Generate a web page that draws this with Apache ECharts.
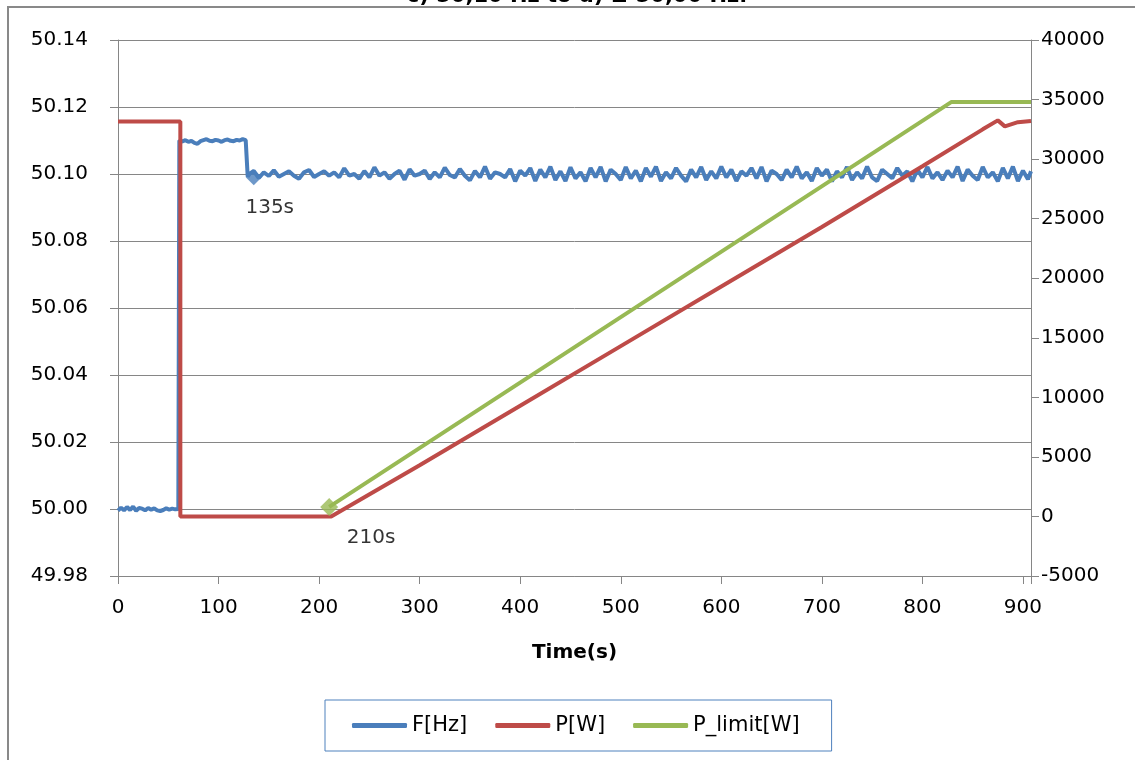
<!DOCTYPE html>
<html>
<head>
<meta charset="utf-8">
<script src="https://cdn.jsdelivr.net/npm/echarts@6/dist/echarts.min.js"></script>
<style>
  html, body { margin: 0; padding: 0; background: #ffffff; }
  #chart { width: 1135px; height: 760px; }
</style>
</head>
<body>
<div id="chart"></div>
<script>
// Grid frequency F[Hz] (left axis) over time, seconds
const freqTime = [
  0, 3, 6, 9, 12, 15, 18, 21, 24, 27, 30, 33, 36, 39, 42, 45, 48, 51, 54, 57, 60,
  61, 64, 67, 70, 73, 76, 79, 82, 85, 88, 91, 94, 97, 100, 103, 106, 109, 112, 115, 118, 121, 124, 127,
  128, 129, 131,
  135, 140, 145, 150, 155, 160, 165, 170, 175, 180, 185, 190, 195, 200, 205, 210,
  215, 220, 225, 230, 235, 240, 245, 250, 255, 260, 265, 270, 275, 280, 285, 290, 295, 300,
  305, 310, 315, 320, 325, 330, 335, 340, 345, 350, 355, 360, 365, 370, 375, 380, 385, 390, 395, 400,
  405, 410, 415, 420, 425, 430, 435, 440, 445, 450, 455, 460, 465, 470, 475, 480, 485, 490, 495, 500,
  505, 510, 515, 520, 525, 530, 535, 540, 545, 550, 555, 560, 565, 570, 575, 580, 585, 590, 595, 600,
  605, 610, 615, 620, 625, 630, 635, 640, 645, 650, 655, 660, 665, 670, 675, 680, 685, 690, 695, 700,
  705, 710, 715, 720, 725, 730, 735, 740, 745, 750, 755, 760, 765, 770, 775, 780, 785, 790, 795, 800,
  805, 810, 815, 820, 825, 830, 835, 840, 845, 850, 855, 860, 865, 870, 875, 880, 885, 890, 895, 900,
  905, 908
];
const freqValue = [
  49.9995, 50.0004, 49.9996, 50.0006, 49.9997, 50.0007, 49.9995, 50.0003, 50.0001, 49.9996, 50.0003,
  49.9998, 50.0002, 49.9996, 49.9994, 49.9997, 50.0002, 49.9998, 50.0001, 49.9999, 50.0000,
  50.1100, 50.1097, 50.1101, 50.1096, 50.1099, 50.1093, 50.1090, 50.1098, 50.1101, 50.1104, 50.1099,
  50.1098, 50.1102, 50.1100, 50.1096, 50.1101, 50.1103, 50.1099, 50.1098, 50.1102, 50.1100, 50.1104, 50.1101,
  50.1100, 50.0992, 50.1001,
  50.1009, 50.0988, 50.1005, 50.0994, 50.1011, 50.0992, 50.1000, 50.1008, 50.0995, 50.0986, 50.1005,
  50.1012, 50.0991, 50.1000, 50.1008, 50.0995,
  50.1005, 50.0990, 50.1017, 50.0995, 50.1000, 50.0986, 50.1009, 50.0990, 50.1020, 50.0995, 50.1005,
  50.0986, 50.1000, 50.1010, 50.0983, 50.1014, 50.0995, 50.1000,
  50.1010, 50.0985, 50.1005, 50.0990, 50.1019, 50.0997, 50.0990, 50.1015, 50.0995, 50.0981, 50.1009,
  50.0990, 50.1022, 50.0986, 50.1005, 50.1000, 50.0990, 50.1015, 50.0978, 50.1010,
  50.0995, 50.1018, 50.0979, 50.1013, 50.0990, 50.1022, 50.0982, 50.1008, 50.0979, 50.1020, 50.0987,
  50.1005, 50.0978, 50.1018, 50.0990, 50.1021, 50.0978, 50.1013, 50.1000, 50.0982,
  50.1021, 50.0987, 50.1010, 50.0978, 50.1018, 50.0992, 50.1022, 50.0979, 50.1005, 50.0987, 50.1018,
  50.0995, 50.0978, 50.1013, 50.0990, 50.1021, 50.0982, 50.1008, 50.0987, 50.1022,
  50.0990, 50.1013, 50.0979, 50.1008, 50.0995, 50.1018, 50.0987, 50.1021, 50.0978, 50.1010, 50.1000,
  50.0982, 50.1013, 50.0990, 50.1022, 50.0987, 50.1005, 50.0979, 50.1018, 50.0995,
  50.1013, 50.0978, 50.1008, 50.0990, 50.1021, 50.0982, 50.1005, 50.0987, 50.1022, 50.0990, 50.0979,
  50.1013, 50.1000, 50.0987, 50.1018, 50.0995, 50.1008, 50.0978, 50.1013, 50.0990,
  50.1021, 50.0987, 50.1005, 50.0982, 50.1010, 50.0990, 50.1022, 50.0979, 50.1013, 50.0995, 50.0982,
  50.1021, 50.0990, 50.1005, 50.0978, 50.1018, 50.0987, 50.1022, 50.0979, 50.1010,
  50.0984, 50.1008
];

// Active power P[W] (right axis)
const powerTime  = [0, 62, 62, 212, 300, 400, 500, 600, 700, 800, 860, 875, 882, 895, 908];
const powerValue = [33150, 33150, 0, 0, 4300, 9300, 14300, 19300, 24300, 29400, 32500, 33250, 32750, 33100, 33200];

// Power limit P_limit[W] (right axis)
const limitTime  = [210, 829, 908];
const limitValue = [800, 34800, 34800];

// Annotated events: frequency settles (blue), ramp starts (green)
const eventTime  = [135, 210];
const eventFreq  = 50.0990;
const eventPower = 800;

// Axis ticks
const timeTicks  = [0, 100, 200, 300, 400, 500, 600, 700, 800, 900];
const freqRange  = [49.98, 50.14, 0.02];
const powerRange = [-5000, 40000, 5000];
const timeRange  = [0, 908, 100];

const seriesNames = ['F[Hz]', 'P[W]', 'P_limit[W]'];
const BLUE = '#4A7EBB', RED = '#BE4B48', GREEN = '#98B954';
const AXIS_GRAY = '#868686';
const FONT = 'DejaVu Sans';

const pairs = (xs, ys) => xs.map((x, i) => [x, ys[i]]);

const chart = echarts.init(document.getElementById('chart'), null, { renderer: 'canvas' });

const labelStyle = { color: '#000', fontSize: 20, fontFamily: FONT };

chart.setOption({
  animation: false,
  backgroundColor: '#ffffff',
  grid: { left: 118, right: 104, top: 40, bottom: 184, containLabel: false },
  graphic: [
    {
      type: 'rect',
      shape: { x: 8, y: 7, width: 1200, height: 800 },
      style: { fill: 'none', stroke: '#898989', lineWidth: 2 },
      silent: true
    },
    {
      type: 'text',
      x: 577, y: 7,
      style: {
        text: 'c) 50,10 Hz to d) \u2265 50,00 Hz.',
        font: 'bold 21px "DejaVu Sans"',
        fill: '#000',
        align: 'center',
        verticalAlign: 'bottom'
      },
      silent: true
    }
  ],
  legend: {
    data: seriesNames,
    left: 325,
    top: 700,
    orient: 'horizontal',
    icon: 'roundRect',
    itemWidth: 55,
    itemHeight: 5,
    itemGap: 28,
    padding: [15, 32, 15, 27],
    borderColor: '#4F81BD',
    borderWidth: 1,
    textStyle: { color: '#000', fontSize: 21, fontFamily: FONT }
  },
  xAxis: {
    type: 'value',
    min: timeRange[0],
    max: timeRange[1],
    interval: timeRange[2],
    name: 'Time(s)',
    nameLocation: 'middle',
    nameGap: 67,
    nameTextStyle: { color: '#000', fontSize: 20, fontWeight: 'bold', fontFamily: FONT },
    axisLine: { show: true, onZero: false, lineStyle: { color: AXIS_GRAY, width: 1 } },
    axisTick: { show: true, inside: false, length: 8, lineStyle: { color: AXIS_GRAY } },
    axisLabel: Object.assign({}, labelStyle, {
      margin: 22,
      formatter: v => (timeTicks.includes(Math.round(v)) && Math.abs(v - Math.round(v)) < 1e-6) ? String(Math.round(v)) : ''
    }),
    splitLine: { show: false }
  },
  yAxis: [
    {
      type: 'value',
      position: 'left',
      min: freqRange[0],
      max: freqRange[1],
      interval: freqRange[2],
      axisLine: { show: true, lineStyle: { color: AXIS_GRAY, width: 1 } },
      axisTick: { show: true, inside: false, length: 8, lineStyle: { color: AXIS_GRAY } },
      axisLabel: Object.assign({}, labelStyle, { margin: 30, formatter: v => v.toFixed(2) }),
      splitLine: { show: true, lineStyle: { color: AXIS_GRAY, width: 1 } }
    },
    {
      type: 'value',
      position: 'right',
      min: powerRange[0],
      max: powerRange[1],
      interval: powerRange[2],
      axisLine: { show: true, lineStyle: { color: AXIS_GRAY, width: 1 } },
      axisTick: { show: true, inside: false, length: 8, lineStyle: { color: AXIS_GRAY } },
      axisLabel: Object.assign({}, labelStyle, { margin: 10, formatter: v => String(Math.round(v)) }),
      splitLine: { show: false }
    }
  ],
  series: [
    {
      name: seriesNames[0],
      type: 'line',
      yAxisIndex: 0,
      data: pairs(freqTime, freqValue),
      showSymbol: false,
      symbol: 'none',
      lineStyle: { color: BLUE, width: 4 },
      itemStyle: { color: BLUE },
      z: 2
    },
    {
      name: seriesNames[1],
      type: 'line',
      yAxisIndex: 1,
      data: pairs(powerTime, powerValue),
      showSymbol: false,
      symbol: 'none',
      lineStyle: { color: RED, width: 4 },
      itemStyle: { color: RED },
      z: 3
    },
    {
      name: seriesNames[2],
      type: 'line',
      yAxisIndex: 1,
      data: pairs(limitTime, limitValue),
      showSymbol: false,
      symbol: 'none',
      lineStyle: { color: GREEN, width: 4 },
      itemStyle: { color: GREEN },
      z: 4
    },
    {
      type: 'scatter',
      yAxisIndex: 0,
      symbol: 'diamond',
      symbolSize: 16,
      itemStyle: { color: BLUE },
      z: 5,
      data: [{
        value: [eventTime[0], eventFreq],
        label: {
          show: true,
          formatter: eventTime[0] + 's',
          position: 'inside',
          offset: [16, 30],
          color: '#000',
          fontSize: 20,
          fontFamily: FONT
        }
      }]
    },
    {
      type: 'scatter',
      yAxisIndex: 1,
      symbol: 'diamond',
      symbolSize: 18,
      itemStyle: { color: GREEN },
      z: 5,
      data: [{
        value: [eventTime[1], eventPower],
        label: {
          show: true,
          formatter: eventTime[1] + 's',
          position: 'inside',
          offset: [42, 31],
          color: '#000',
          fontSize: 20,
          fontFamily: FONT
        }
      }]
    }
  ]
});
</script>
</body>
</html>
